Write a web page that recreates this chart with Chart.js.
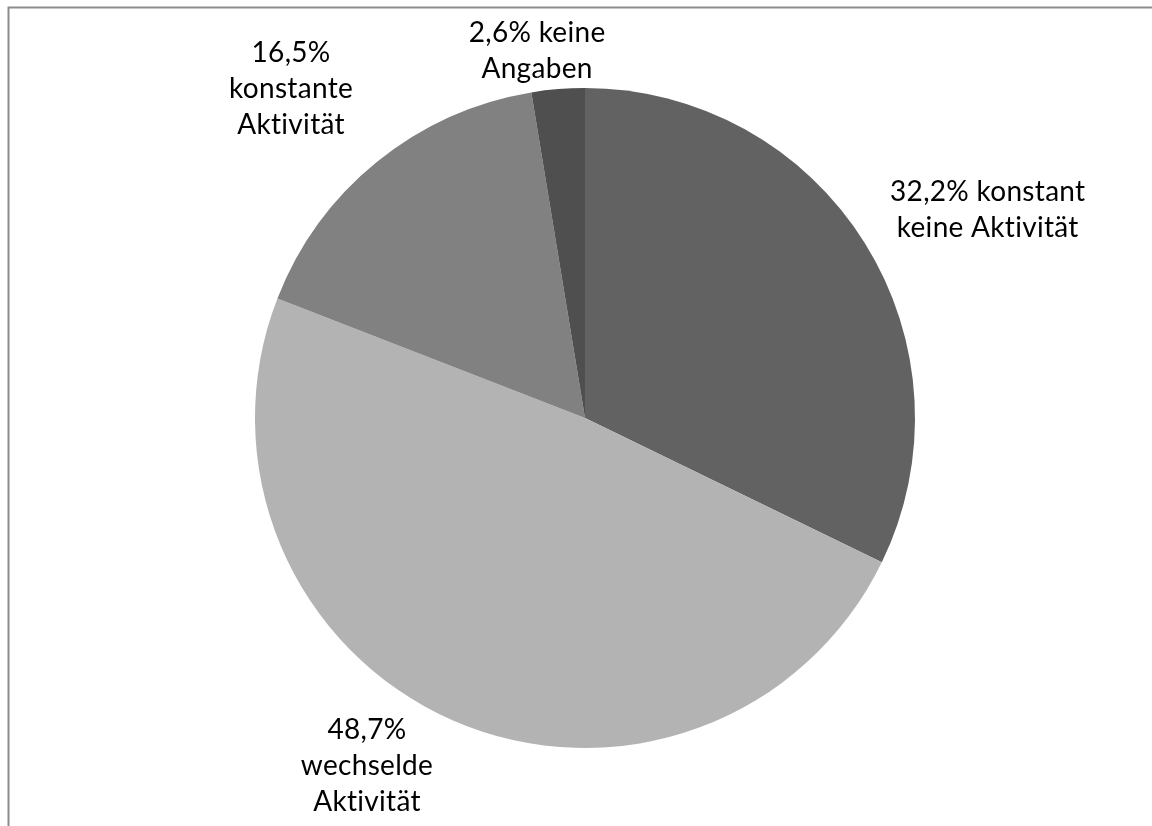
<!DOCTYPE html>
<html>
<head>
<meta charset="utf-8">
<script src="https://cdn.jsdelivr.net/npm/chart.js@4.4.1/dist/chart.umd.min.js"></script>
<style>
  html, body { margin: 0; padding: 0; background: #ffffff; }
  #wrap { position: relative; width: 1152px; height: 826px; }
</style>
</head>
<body>
<div id="wrap"><canvas id="c" width="1152" height="826"></canvas></div>
<script>
// ---- data ----
const categories = ["konstant keine Aktivität", "wechselde Aktivität", "konstante Aktivität", "keine Angaben"];
const values = [32.2, 48.7, 16.5, 2.6];
const labelLines = [
  ["32,2% konstant", "keine Aktivität"],
  ["48,7%", "wechselde", "Aktivität"],
  ["16,5%", "konstante", "Aktivität"],
  ["2,6% keine", "Angaben"]
];
const sliceColors = ["#626262", "#b3b3b3", "#818181", "#4f4f4f"];

// label placement relative to each slice's outer mid-point (style only)
const labelOffsets = [[123, -42], [-86, 19], [-86, -100], [-21, -47]];

const framePlugin = {
  id: 'frame',
  beforeDraw(chart) {
    const ctx = chart.ctx;
    ctx.save();
    ctx.fillStyle = '#ffffff';
    ctx.fillRect(0, 0, chart.width, chart.height);
    ctx.strokeStyle = '#8c8c8c';
    ctx.lineWidth = 2;
    ctx.beginPath();
    ctx.moveTo(8.5, chart.height + 5);
    ctx.lineTo(8.5, 7.5);
    ctx.lineTo(chart.width + 5, 7.5);
    ctx.stroke();
    ctx.restore();
  }
};

const labelPlugin = {
  id: 'sliceLabels',
  afterDatasetsDraw(chart) {
    const ctx = chart.ctx;
    const meta = chart.getDatasetMeta(0);
    ctx.save();
    ctx.font = '28px Lato, "Open Sans", sans-serif';
    if ('letterSpacing' in ctx) ctx.letterSpacing = '0.3px';
    ctx.fillStyle = '#000000';
    ctx.textAlign = 'center';
    ctx.textBaseline = 'alphabetic';
    const lh = 36;
    meta.data.forEach((arc, i) => {
      const p = arc.getProps(['x', 'y', 'startAngle', 'endAngle', 'outerRadius'], true);
      const mid = (p.startAngle + p.endAngle) / 2;
      const ax = p.x + Math.cos(mid) * p.outerRadius;
      const ay = p.y + Math.sin(mid) * p.outerRadius;
      const cx = ax + labelOffsets[i][0];
      const by = ay + labelOffsets[i][1];
      labelLines[i].forEach((line, k) => {
        ctx.fillText(line, cx, by + k * lh);
      });
    });
    ctx.restore();
  }
};

new Chart(document.getElementById('c'), {
  type: 'pie',
  data: {
    labels: categories,
    datasets: [{
      data: values,
      backgroundColor: sliceColors,
      borderWidth: 0
    }]
  },
  options: {
    responsive: false,
    animation: false,
    layout: { padding: { left: 255, right: 237, top: 88, bottom: 78 } },
    plugins: {
      legend: { display: false },
      tooltip: { enabled: false }
    }
  },
  plugins: [framePlugin, labelPlugin]
});
</script>
</body>
</html>
